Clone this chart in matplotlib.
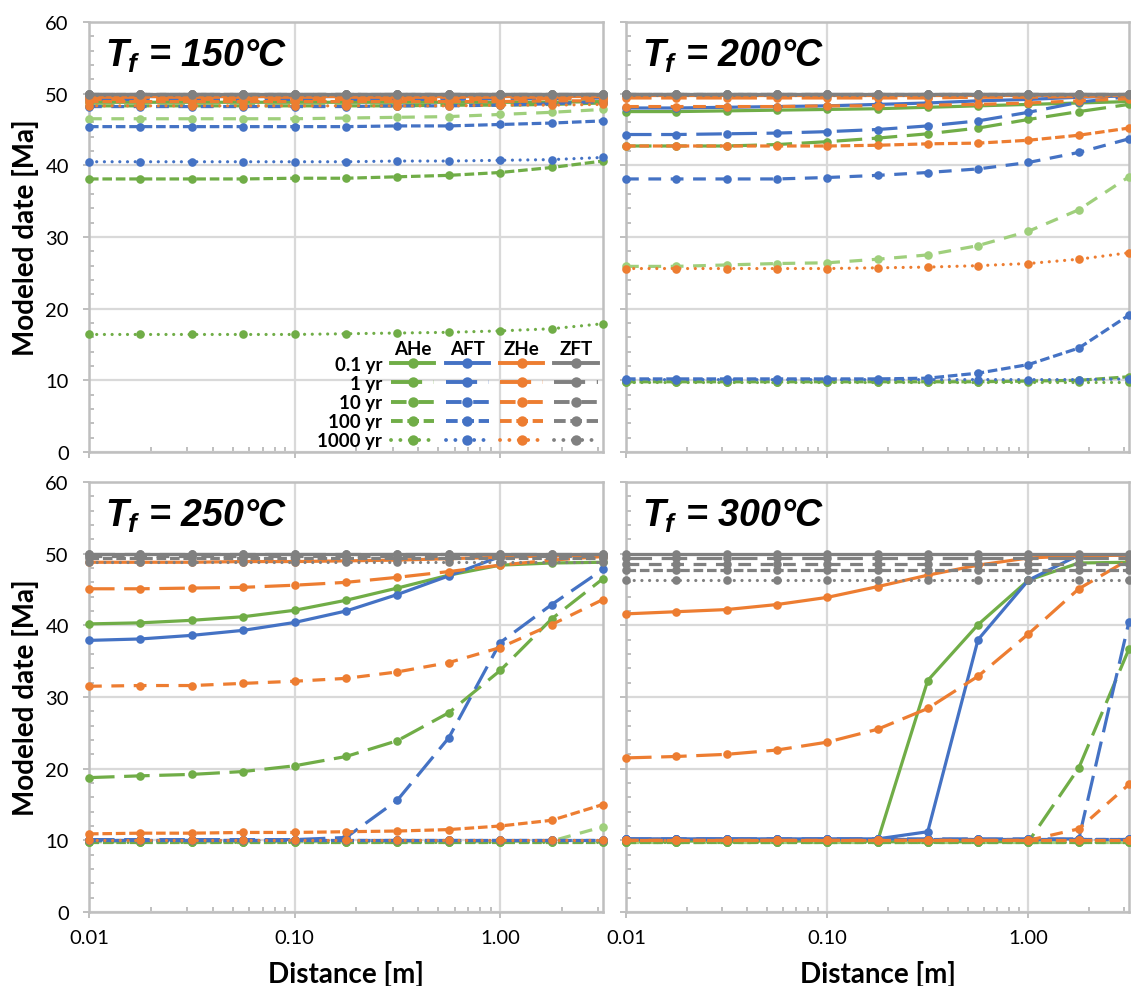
import numpy as np
import matplotlib
matplotlib.use('Agg')
import matplotlib.pyplot as plt
from matplotlib.lines import Line2D
from matplotlib.ticker import MultipleLocator, LogLocator, FuncFormatter, NullFormatter

# ---------------- data ----------------
distance = [0.01, 0.0178, 0.0316, 0.0562, 0.1, 0.178, 0.316, 0.562, 1.0, 1.78, 3.16]
durations = ['0.1 yr', '1 yr', '10 yr', '100 yr', '1000 yr']
systems = ['AHe', 'AFT', 'ZHe', 'ZFT']
temperatures = [150, 200, 250, 300]

# T_f = 150 C  (rows: 0.1, 1, 10, 100, 1000 yr)
ahe_150 = [[48.8, 48.8, 48.8, 48.8, 48.8, 48.8, 48.8, 48.8, 48.8, 48.8, 48.9],
           [48.3, 48.3, 48.3, 48.3, 48.3, 48.3, 48.3, 48.4, 48.4, 48.5, 48.7],
           [46.5, 46.5, 46.5, 46.5, 46.5, 46.6, 46.7, 46.8, 47.1, 47.4, 47.8],
           [38.1, 38.1, 38.1, 38.1, 38.2, 38.2, 38.4, 38.6, 39.0, 39.7, 40.6],
           [16.4, 16.4, 16.4, 16.4, 16.4, 16.5, 16.6, 16.7, 16.9, 17.2, 17.9]]
aft_150 = [[49.6, 49.6, 49.6, 49.6, 49.6, 49.6, 49.6, 49.6, 49.6, 49.7, 49.7],
           [49.2, 49.2, 49.2, 49.2, 49.2, 49.2, 49.2, 49.2, 49.3, 49.3, 49.4],
           [48.2, 48.2, 48.2, 48.2, 48.2, 48.2, 48.3, 48.3, 48.4, 48.6, 48.9],
           [45.4, 45.4, 45.4, 45.4, 45.4, 45.4, 45.5, 45.5, 45.7, 45.9, 46.2],
           [40.5, 40.5, 40.5, 40.5, 40.5, 40.5, 40.6, 40.6, 40.7, 40.8, 41.1]]
zhe_150 = [[49.7, 49.7, 49.7, 49.7, 49.7, 49.7, 49.7, 49.7, 49.7, 49.7, 49.7],
           [49.5, 49.5, 49.5, 49.5, 49.5, 49.5, 49.5, 49.5, 49.5, 49.5, 49.6],
           [49.2, 49.2, 49.2, 49.2, 49.2, 49.2, 49.2, 49.2, 49.2, 49.3, 49.3],
           [48.9, 48.9, 48.9, 48.9, 48.9, 48.9, 48.9, 48.9, 48.9, 49.0, 49.0],
           [48.3, 48.3, 48.3, 48.3, 48.3, 48.3, 48.3, 48.3, 48.4, 48.4, 48.5]]
zft_150 = [[50.0, 50.0, 50.0, 50.0, 50.0, 50.0, 50.0, 50.0, 50.0, 50.0, 50.0],
           [50.0, 50.0, 50.0, 50.0, 50.0, 50.0, 50.0, 50.0, 50.0, 50.0, 50.0],
           [49.9, 49.9, 49.9, 49.9, 49.9, 49.9, 49.9, 49.9, 49.9, 49.9, 49.9],
           [49.9, 49.9, 49.9, 49.9, 49.9, 49.9, 49.9, 49.9, 49.9, 49.9, 49.9],
           [49.8, 49.8, 49.8, 49.8, 49.8, 49.8, 49.8, 49.8, 49.8, 49.8, 49.8]]

# T_f = 200 C
ahe_200 = [[47.5, 47.5, 47.6, 47.7, 47.8, 47.9, 48.1, 48.3, 48.5, 48.7, 48.9],
           [42.7, 42.7, 42.7, 42.9, 43.3, 43.8, 44.4, 45.2, 46.4, 47.5, 48.5],
           [25.9, 25.9, 26.1, 26.3, 26.4, 26.9, 27.5, 28.8, 30.8, 33.8, 38.4],
           [9.8, 9.8, 9.8, 9.8, 9.8, 9.8, 9.8, 9.8, 9.9, 10.0, 10.5],
           [9.8, 9.8, 9.8, 9.8, 9.8, 9.8, 9.8, 9.8, 9.8, 9.8, 9.8]]
aft_200 = [[48.0, 48.0, 48.1, 48.2, 48.3, 48.5, 48.7, 49.0, 49.2, 49.5, 49.7],
           [44.3, 44.3, 44.4, 44.5, 44.7, 45.0, 45.5, 46.2, 47.4, 48.8, 49.6],
           [38.1, 38.1, 38.1, 38.1, 38.3, 38.6, 39.0, 39.5, 40.4, 41.8, 43.7],
           [10.2, 10.2, 10.2, 10.2, 10.2, 10.2, 10.3, 11.0, 12.2, 14.5, 19.1],
           [10.1, 10.1, 10.1, 10.1, 10.1, 10.1, 10.1, 10.1, 10.1, 10.1, 10.2]]
zhe_200 = [[49.8, 49.8, 49.8, 49.8, 49.8, 49.8, 49.8, 49.8, 49.8, 49.8, 49.8],
           [49.4, 49.4, 49.4, 49.4, 49.4, 49.4, 49.4, 49.5, 49.5, 49.6, 49.7],
           [48.2, 48.2, 48.2, 48.2, 48.3, 48.3, 48.4, 48.5, 48.7, 49.0, 49.3],
           [42.7, 42.7, 42.7, 42.7, 42.7, 42.8, 43.0, 43.1, 43.5, 44.2, 45.2],
           [25.6, 25.6, 25.6, 25.6, 25.6, 25.7, 25.8, 26.0, 26.3, 26.9, 27.8]]
zft_200 = [[50.0, 50.0, 50.0, 50.0, 50.0, 50.0, 50.0, 50.0, 50.0, 50.0, 50.0],
           [50.0, 50.0, 50.0, 50.0, 50.0, 50.0, 50.0, 50.0, 50.0, 50.0, 50.0],
           [49.9, 49.9, 49.9, 49.9, 49.9, 49.9, 49.9, 49.9, 49.9, 49.9, 49.9],
           [49.9, 49.9, 49.9, 49.9, 49.9, 49.9, 49.9, 49.9, 49.9, 49.9, 49.9],
           [49.8, 49.8, 49.8, 49.8, 49.8, 49.8, 49.8, 49.8, 49.8, 49.8, 49.8]]

# T_f = 250 C
ahe_250 = [[40.2, 40.35, 40.7, 41.2, 42.1, 43.5, 45.2, 47.0, 48.4, 48.7, 48.8],
           [18.75, 19.0, 19.2, 19.6, 20.4, 21.7, 23.9, 27.8, 33.7, 40.9, 46.5],
           [9.8, 9.8, 9.8, 9.8, 9.8, 9.8, 9.8, 9.8, 9.8, 9.9, 11.9],
           [9.8, 9.8, 9.8, 9.8, 9.8, 9.8, 9.8, 9.8, 9.8, 9.8, 9.8],
           [9.8, 9.8, 9.8, 9.8, 9.8, 9.8, 9.8, 9.8, 9.8, 9.8, 9.8]]
aft_250 = [[37.9, 38.1, 38.6, 39.3, 40.4, 42.0, 44.3, 46.9, 49.6, 49.7, 49.8],
           [10.1, 10.1, 10.1, 10.1, 10.1, 10.4, 15.6, 24.3, 37.6, 42.9, 47.8],
           [10.1, 10.1, 10.1, 10.1, 10.1, 10.1, 10.1, 10.1, 10.1, 10.1, 10.1],
           [10.1, 10.1, 10.1, 10.1, 10.1, 10.1, 10.1, 10.1, 10.1, 10.1, 10.1],
           [10.1, 10.1, 10.1, 10.1, 10.1, 10.1, 10.1, 10.1, 10.1, 10.1, 10.1]]
zhe_250 = [[48.8, 48.8, 48.8, 48.9, 48.9, 49.0, 49.1, 49.3, 49.5, 49.7, 49.8],
           [45.1, 45.1, 45.2, 45.3, 45.6, 46.0, 46.7, 47.5, 48.4, 49.1, 49.6],
           [31.5, 31.6, 31.6, 31.9, 32.2, 32.6, 33.5, 34.8, 36.9, 40.1, 43.6],
           [10.9, 11.0, 11.0, 11.1, 11.1, 11.2, 11.3, 11.5, 12.0, 12.8, 15.0],
           [10.0, 10.0, 10.0, 10.0, 10.0, 10.0, 10.0, 10.0, 10.0, 10.0, 10.0]]
zft_250 = [[50.0, 50.0, 50.0, 50.0, 50.0, 50.0, 50.0, 50.0, 50.0, 50.0, 50.0],
           [49.9, 49.9, 49.9, 49.9, 49.9, 49.9, 49.9, 49.9, 49.9, 49.9, 49.9],
           [49.7, 49.7, 49.7, 49.7, 49.7, 49.7, 49.7, 49.7, 49.7, 49.7, 49.7],
           [49.4, 49.4, 49.4, 49.4, 49.4, 49.4, 49.4, 49.4, 49.4, 49.4, 49.4],
           [48.8, 48.8, 48.8, 48.8, 48.8, 48.8, 48.8, 48.8, 48.8, 48.8, 48.8]]

# T_f = 300 C
ahe_300 = [[9.9, 9.9, 9.9, 9.9, 9.9, 9.9, 32.3, 40.1, 46.3, 48.7, 48.8],
           [9.8, 9.8, 9.8, 9.8, 9.8, 9.8, 9.8, 9.8, 9.8, 20.1, 36.7],
           [9.8, 9.8, 9.8, 9.8, 9.8, 9.8, 9.8, 9.8, 9.8, 9.8, 9.8],
           [9.8, 9.8, 9.8, 9.8, 9.8, 9.8, 9.8, 9.8, 9.8, 9.8, 9.8],
           [9.8, 9.8, 9.8, 9.8, 9.8, 9.8, 9.8, 9.8, 9.8, 9.8, 9.8]]
aft_300 = [[10.2, 10.2, 10.2, 10.2, 10.2, 10.2, 11.2, 38.0, 46.3, 49.8, 49.8],
           [10.2, 10.2, 10.2, 10.2, 10.2, 10.2, 10.2, 10.2, 10.2, 10.2, 40.5],
           [10.2, 10.2, 10.2, 10.2, 10.2, 10.2, 10.2, 10.2, 10.2, 10.2, 10.2],
           [10.2, 10.2, 10.2, 10.2, 10.2, 10.2, 10.2, 10.2, 10.2, 10.2, 10.2],
           [10.2, 10.2, 10.2, 10.2, 10.2, 10.2, 10.2, 10.2, 10.2, 10.2, 10.2]]
zhe_300 = [[41.6, 41.9, 42.2, 42.9, 43.9, 45.4, 47.0, 48.4, 49.4, 49.7, 49.8],
           [21.5, 21.7, 22.0, 22.6, 23.7, 25.5, 28.4, 32.9, 38.8, 45.1, 49.2],
           [10.0, 10.0, 10.0, 10.0, 10.0, 10.0, 10.0, 10.0, 10.0, 11.6, 17.8],
           [10.0, 10.0, 10.0, 10.0, 10.0, 10.0, 10.0, 10.0, 10.0, 10.0, 10.0],
           [10.0, 10.0, 10.0, 10.0, 10.0, 10.0, 10.0, 10.0, 10.0, 10.0, 10.0]]
zft_300 = [[50.0, 50.0, 50.0, 50.0, 50.0, 50.0, 50.0, 50.0, 50.0, 50.0, 50.0],
           [49.4, 49.4, 49.4, 49.4, 49.4, 49.4, 49.4, 49.4, 49.4, 49.4, 49.4],
           [48.6, 48.6, 48.6, 48.6, 48.6, 48.6, 48.6, 48.6, 48.6, 48.6, 48.6],
           [47.7, 47.7, 47.7, 47.7, 47.7, 47.7, 47.7, 47.7, 47.7, 47.7, 47.7],
           [46.3, 46.3, 46.3, 46.3, 46.3, 46.3, 46.3, 46.3, 46.3, 46.3, 46.3]]

panel_data = {150: [ahe_150, aft_150, zhe_150, zft_150],
              200: [ahe_200, aft_200, zhe_200, zft_200],
              250: [ahe_250, aft_250, zhe_250, zft_250],
              300: [ahe_300, aft_300, zhe_300, zft_300]}

# ---------------- style ----------------
plt.rcParams['font.family'] = ['Lato', 'DejaVu Sans']
plt.rcParams['mathtext.fontset'] = 'custom'
plt.rcParams['mathtext.it'] = 'Liberation Sans:italic:bold'
plt.rcParams['mathtext.rm'] = 'Liberation Sans:bold'
plt.rcParams['mathtext.bf'] = 'Liberation Sans:bold'

sys_colors = {'AHe': '#70AD47', 'AFT': '#4472C4', 'ZHe': '#ED7D31', 'ZFT': '#808080'}
ahe_10yr_color = '#9FCF7C'
dash_styles = ['-', (0, (8, 3)), (0, (4, 3)), (0, (3, 1.2)), (0, (0.01, 2.4))]
LW = 2.3
MS = 6.2
spine_c = '#BFBFBF'
grid_c = '#D9D9D9'

W, H = 1131, 987
fig = plt.figure(figsize=(W / 100, H / 100), dpi=100)


def frac(x0, y_top, x1, y_bot):
    return [x0 / W, 1 - y_bot / H, (x1 - x0) / W, (y_bot - y_top) / H]


positions = {150: frac(89, 23, 603, 453), 200: frac(626, 23, 1129, 453),
             250: frac(89, 483, 603, 913), 300: frac(626, 483, 1129, 913)}

axes = {}
for T in temperatures:
    ax = fig.add_axes(positions[T])
    axes[T] = ax
    data = panel_data[T]
    for si, sname in enumerate(systems):
        for di in range(5):
            col = sys_colors[sname]
            if sname == 'AHe' and di == 2:
                col = ahe_10yr_color
            cap = 'round' if di == 4 else 'butt'
            ax.plot(distance, data[si][di], color=col, ls=dash_styles[di], lw=LW,
                    marker='o', ms=MS, mfc=col, mec=col, mew=0,
                    dash_capstyle=cap, solid_capstyle='butt',
                    clip_on=False, zorder=3)
    ax.set_xscale('log')
    ax.set_xlim(0.01, 10 ** 0.5)
    ax.set_ylim(0, 60)
    ax.xaxis.set_major_locator(LogLocator(base=10, numticks=10))
    ax.xaxis.set_minor_locator(LogLocator(base=10, subs=np.arange(2, 10), numticks=10))
    ax.xaxis.set_major_formatter(FuncFormatter(lambda v, p: f'{v:.2f}'))
    ax.xaxis.set_minor_formatter(NullFormatter())
    ax.yaxis.set_major_locator(MultipleLocator(10))
    ax.yaxis.set_minor_locator(MultipleLocator(2))
    ax.grid(which='major', color=grid_c, lw=1.6)
    ax.set_axisbelow(True)
    for sp in ax.spines.values():
        sp.set_color(spine_c)
        sp.set_linewidth(1.8)
        sp.set_zorder(1.5)
    ax.tick_params(which='major', direction='out', length=4.5, width=1.4, color=spine_c,
                   labelsize=14.5, labelcolor='black')
    ax.tick_params(axis='x', which='major', pad=8)
    ax.tick_params(axis='y', which='major', pad=10)
    ax.tick_params(which='minor', direction='in', length=3.8, width=1.4, color=spine_c)
    if T in (150, 200):
        ax.tick_params(axis='x', labelbottom=False)
    else:
        ax.set_xlabel('Distance [m]', fontsize=20, fontweight='bold', va='center')
        ax.xaxis.set_label_coords(0.5, -0.142)
    if T in (200, 300):
        ax.tick_params(axis='y', labelleft=False)
    else:
        ax.set_ylabel('Modeled date [Ma]', fontsize=20, fontweight='bold', va='center')
        ax.yaxis.set_label_coords(-0.124, 0.5)
    ax.text(0.031, 0.898, r'$T_f$ = ' + f'{T}°C', transform=ax.transAxes,
            fontsize=27, fontweight='bold', fontstyle='italic', family='Liberation Sans',
            ha='left', va='baseline', zorder=5)

# ---------------- legend (grid: durations x systems) ----------------
ax0 = axes[150]
handles, labels = [], []
for sname in systems:
    for di, dname in enumerate(durations):
        cap = 'round' if di == 4 else 'butt'
        handles.append(Line2D([], [], color=sys_colors[sname], ls=dash_styles[di], lw=2.8,
                              marker='o', ms=7.5, mew=0, dash_capstyle=cap))
        labels.append(dname if sname == 'AHe' else '')
leg = ax0.legend(handles, labels, ncol=4, loc='lower right', bbox_to_anchor=(0.995, 0.0),
                 frameon=False, markerfirst=False, handlelength=2.3, handletextpad=0.48,
                 columnspacing=0.12, labelspacing=0.11, borderaxespad=0.05, borderpad=0.1,
                 prop={'weight': 'bold', 'size': 13.5})
leg.set_zorder(6)

fig.canvas.draw()
renderer = fig.canvas.get_renderer()
inv = ax0.transAxes.inverted()
lh = leg.legend_handles
for ci, sname in enumerate(systems):
    bb = lh[ci * 5].get_window_extent(renderer)
    xc = 0.5 * (bb.x0 + bb.x1)
    yc = 0.5 * (bb.y0 + bb.y1) + 15
    xa, ya = inv.transform((xc, yc))
    ax0.text(xa, ya, sname, transform=ax0.transAxes, ha='center', va='center',
             fontsize=13.5, fontweight='bold', zorder=6)

fig.savefig('out.png', dpi=100)
